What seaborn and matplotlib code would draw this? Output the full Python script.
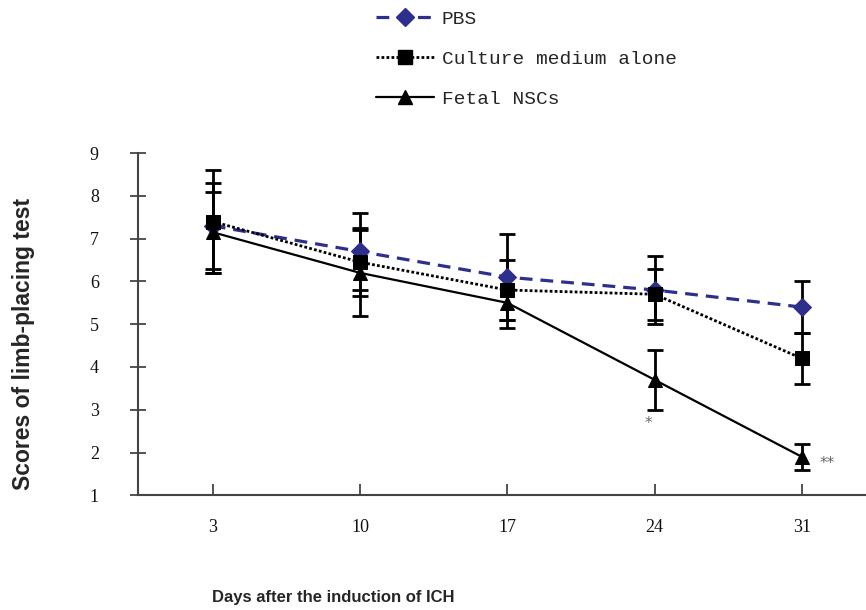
import pandas as pd
import matplotlib.pyplot as plt
import seaborn as sns
from matplotlib.lines import Line2D

# Values
days = [3, 10, 17, 24, 31]
pbs = [7.3, 6.7, 6.1, 5.8, 5.4]
pbs_err = [1.0, 0.9, 1.0, 0.8, 0.6]
culture = [7.4, 6.45, 5.8, 5.7, 4.2]
culture_err = [1.2, 0.8, 0.7, 0.6, 0.6]
fetal = [7.15, 6.2, 5.5, 3.7, 1.9]
fetal_err = [0.95, 1.0, 0.6, 0.7, 0.3]
groups = ['PBS', 'Culture medium alone', 'Fetal NSCs']

sns.set_style("ticks")

blue = '#2e2e8c'
styles = {
    'PBS': dict(color=blue, ls=(0, (4, 2.5)), marker='D', lw=2.3, ms=9),
    'Culture medium alone': dict(color='black', ls=(0, (1, 0.8)), marker='s', lw=2.0, ms=10),
    'Fetal NSCs': dict(color='black', ls='-', marker='^', lw=1.6, ms=10),
}

df = pd.concat([
    pd.DataFrame({'day': days, 'score': pbs, 'err': pbs_err, 'group': 'PBS'}),
    pd.DataFrame({'day': days, 'score': culture, 'err': culture_err, 'group': 'Culture medium alone'}),
    pd.DataFrame({'day': days, 'score': fetal, 'err': fetal_err, 'group': 'Fetal NSCs'}),
])

fig = plt.figure(figsize=(8.66, 6.10), dpi=100)
ax = fig.add_axes([0.159, 0.188, 0.841, 0.561])

# error bars first, lines on top
for g in groups:
    sub = df[df['group'] == g]
    ax.errorbar(sub['day'], sub['score'], yerr=sub['err'], fmt='none',
                ecolor='black', elinewidth=2.0, capsize=6, capthick=2.0, zorder=2)

for g in groups:
    sub = df[df['group'] == g]
    st = styles[g]
    sns.lineplot(data=sub, x='day', y='score', ax=ax, color=st['color'],
                 linestyle=st['ls'], linewidth=st['lw'], marker=st['marker'],
                 markersize=st['ms'], markeredgecolor=st['color'], zorder=3)

# significance marks
ax.text(23.7, 2.68, '*', color='#666666', fontsize=11, ha='center', va='center')
ax.text(32.2, 1.75, '**', color='#666666', fontsize=11, ha='center', va='center')

ax.set_xlim(-0.57, 34.05)
ax.set_ylim(1, 9)
ax.set_xticks(days)
ax.set_yticks(range(1, 10))
ax.set_xticklabels([str(d) for d in days], family='Liberation Serif', fontsize=13)
ax.set_yticklabels([str(v) for v in range(1, 10)], family='Liberation Serif', fontsize=13)
ax.tick_params(axis='x', direction='in', length=8, width=1.3, color='#444444', pad=17,
               labelcolor='#111111')
ax.tick_params(axis='y', direction='inout', length=12, width=1.3, color='#444444', pad=22,
               labelcolor='#111111')
sns.despine(ax=ax)
for s in ['left', 'bottom']:
    ax.spines[s].set_color('#444444')
    ax.spines[s].set_linewidth(1.5)

ax.set_xlabel('')
ax.set_ylabel('')
fig.text(0.385, 0.021, 'Days after the induction of ICH', family='Liberation Sans',
         weight='bold', fontsize=12, ha='center', va='center')
fig.text(0.027, 0.436, 'Scores of limb-placing test', family='Liberation Sans',
         weight='bold', fontsize=16.5, ha='center', va='center', rotation=90)

handles = [Line2D([], [], color=styles[g]['color'], ls=styles[g]['ls'], lw=styles[g]['lw'],
                  marker=styles[g]['marker'], ms=styles[g]['ms'],
                  markeredgecolor=styles[g]['color']) for g in groups]
fig.legend(handles, groups, loc='upper left', bbox_to_anchor=(0.418, 1.005),
           frameon=False, prop={'family': 'Liberation Mono', 'size': 14},
           handlelength=3.0, handletextpad=0.4, labelspacing=1.15, numpoints=1,
           borderpad=0.2)

fig.savefig('out.png', dpi=100)
